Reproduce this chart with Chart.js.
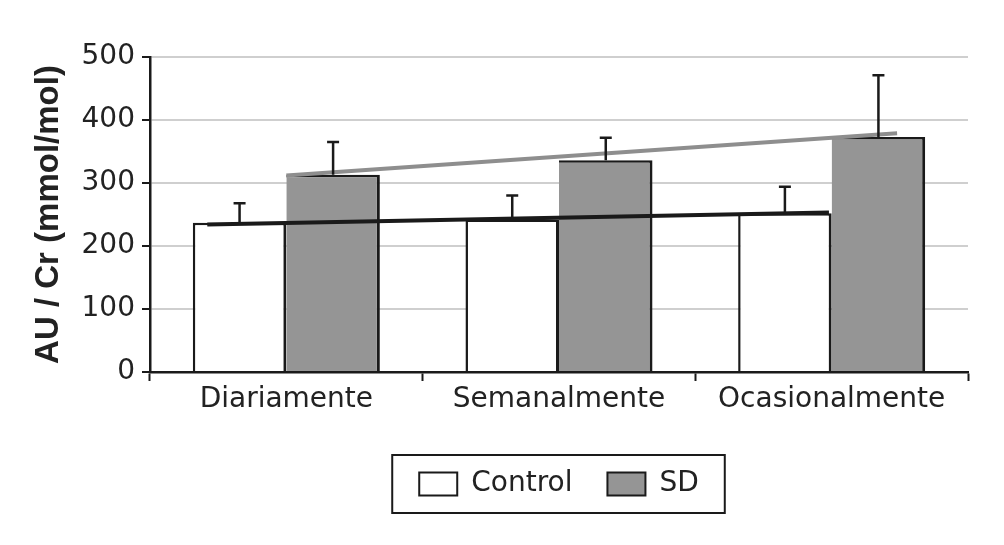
<!DOCTYPE html>
<html>
<head>
<meta charset="utf-8">
<script src="https://cdn.jsdelivr.net/npm/chart.js@4/dist/chart.umd.min.js"></script>
<style>
    body { margin: 0; background: #fff; }
    #wrap { width: 1004px; height: 545px; }
</style>
</head>
<body>
<div id="wrap"><canvas id="chart"></canvas></div>
<script>
// Chart data
const categories = ['Diariamente', 'Semanalmente', 'Ocasionalmente'];
const controlValues = [237, 242, 252];
const sdValues = [313, 336, 373];
const controlErrors = [31, 38, 42];
const sdErrors = [52, 36, 98];
const yTicks = [0, 100, 200, 300, 400, 500];

// Trend lines, x in category units (0..3 across the axis)
const controlTrendX = [0.21, 2.49];
const controlTrendY = [234, 253];
const sdTrendX = [0.50, 2.74];
const sdTrendY = [312, 379];

const labelFont = { family: 'DejaVu Sans', size: 28 };

// Trend lines and upward error bars, drawn over the bars
const overlays = {
    id: 'overlays',
    afterDatasetsDraw(chart) {
        const ctx = chart.ctx;
        const xScale = chart.scales.x;
        const yScale = chart.scales.y;
        const nCat = categories.length;
        ctx.save();

        // trend lines
        const trends = [
            { xs: controlTrendX, ys: controlTrendY, color: '#1a1a1a' },
            { xs: sdTrendX, ys: sdTrendY, color: '#8e8e8e' }
        ];
        trends.forEach(t => {
            ctx.strokeStyle = t.color;
            ctx.lineWidth = 4;
            ctx.beginPath();
            t.xs.forEach((x, i) => {
                const px = xScale.getPixelForDecimal(x / nCat);
                const py = yScale.getPixelForValue(t.ys[i]);
                if (i === 0) ctx.moveTo(px, py); else ctx.lineTo(px, py);
            });
            ctx.stroke();
        });

        // error bars
        const errs = [controlErrors, sdErrors];
        ctx.strokeStyle = '#1a1a1a';
        ctx.lineWidth = 2.5;
        [0, 1].forEach(di => {
            const meta = chart.getDatasetMeta(di);
            meta.data.forEach((bar, i) => {
                const val = chart.data.datasets[di].data[i];
                const yTop = yScale.getPixelForValue(val + errs[di][i]);
                ctx.beginPath();
                ctx.moveTo(bar.x, bar.y);
                ctx.lineTo(bar.x, yTop);
                ctx.moveTo(bar.x - 6, yTop);
                ctx.lineTo(bar.x + 6, yTop);
                ctx.stroke();
            });
        });
        ctx.restore();
    }
};

// Frame around the legend
const legendFrame = {
    id: 'legendFrame',
    afterDraw(chart) {
        const boxes = chart.legend.legendHitBoxes;
        if (!boxes || !boxes.length) return;
        const first = boxes[0];
        const last = boxes[boxes.length - 1];
        const cy = first.top + first.height / 2;
        const ctx = chart.ctx;
        ctx.save();
        ctx.strokeStyle = '#1a1a1a';
        ctx.lineWidth = 2;
        ctx.strokeRect(first.left - 27, cy - 29, last.left + last.width - first.left + 53, 58);
        ctx.restore();
    }
};

new Chart(document.getElementById('chart'), {
    type: 'bar',
    data: {
        labels: categories,
        datasets: [
            {
                label: 'Control',
                data: controlValues,
                backgroundColor: '#ffffff',
                borderColor: '#1a1a1a',
                borderWidth: { top: 2.5, left: 2.5, right: 3, bottom: 0 }
            },
            {
                label: 'SD',
                data: sdValues,
                backgroundColor: '#959595',
                borderColor: '#1a1a1a',
                borderWidth: { top: 2.5, left: 0, right: 3, bottom: 0 }
            }
        ]
    },
    options: {
        responsive: true,
        maintainAspectRatio: false,
        animation: false,
        categoryPercentage: 0.686,
        barPercentage: 1.0,
        layout: { padding: { left: 0, right: 36, top: 57, bottom: 37 } },
        scales: {
            x: {
                grid: {
                    drawOnChartArea: false,
                    tickLength: 9,
                    tickColor: '#1a1a1a',
                    tickWidth: 2
                },
                border: { color: '#1a1a1a', width: 2.5 },
                ticks: { font: labelFont, color: '#222', padding: 2, maxRotation: 0 },
                afterFit(scale) { scale.height = 63; }
            },
            y: {
                min: 0,
                max: 500,
                afterBuildTicks(scale) { scale.ticks = yTicks.map(v => ({ value: v })); },
                grid: {
                    color: '#cfcfcf',
                    lineWidth: 2,
                    tickLength: 8,
                    tickColor: '#1a1a1a',
                    tickWidth: 2
                },
                border: { color: '#1a1a1a', width: 2.5 },
                ticks: { font: labelFont, color: '#222', padding: 7 },
                title: {
                    display: true,
                    text: 'AU / Cr (mmol/mol)',
                    font: { family: 'Liberation Sans', size: 33, weight: 'bold' },
                    color: '#222',
                    padding: { top: 29, bottom: 0 }
                },
                afterFit(scale) { scale.width = 150; }
            }
        },
        plugins: {
            legend: {
                position: 'bottom',
                fullSize: false,
                labels: {
                    font: labelFont,
                    color: '#222',
                    boxWidth: 38,
                    boxHeight: 23,
                    padding: 35,
                    generateLabels(chart) {
                        const items = Chart.defaults.plugins.legend.labels.generateLabels(chart);
                        items.forEach(item => { item.lineWidth = 2; });
                        return items;
                    }
                }
            },
            tooltip: { enabled: false }
        }
    },
    plugins: [overlays, legendFrame]
});
</script>
</body>
</html>
